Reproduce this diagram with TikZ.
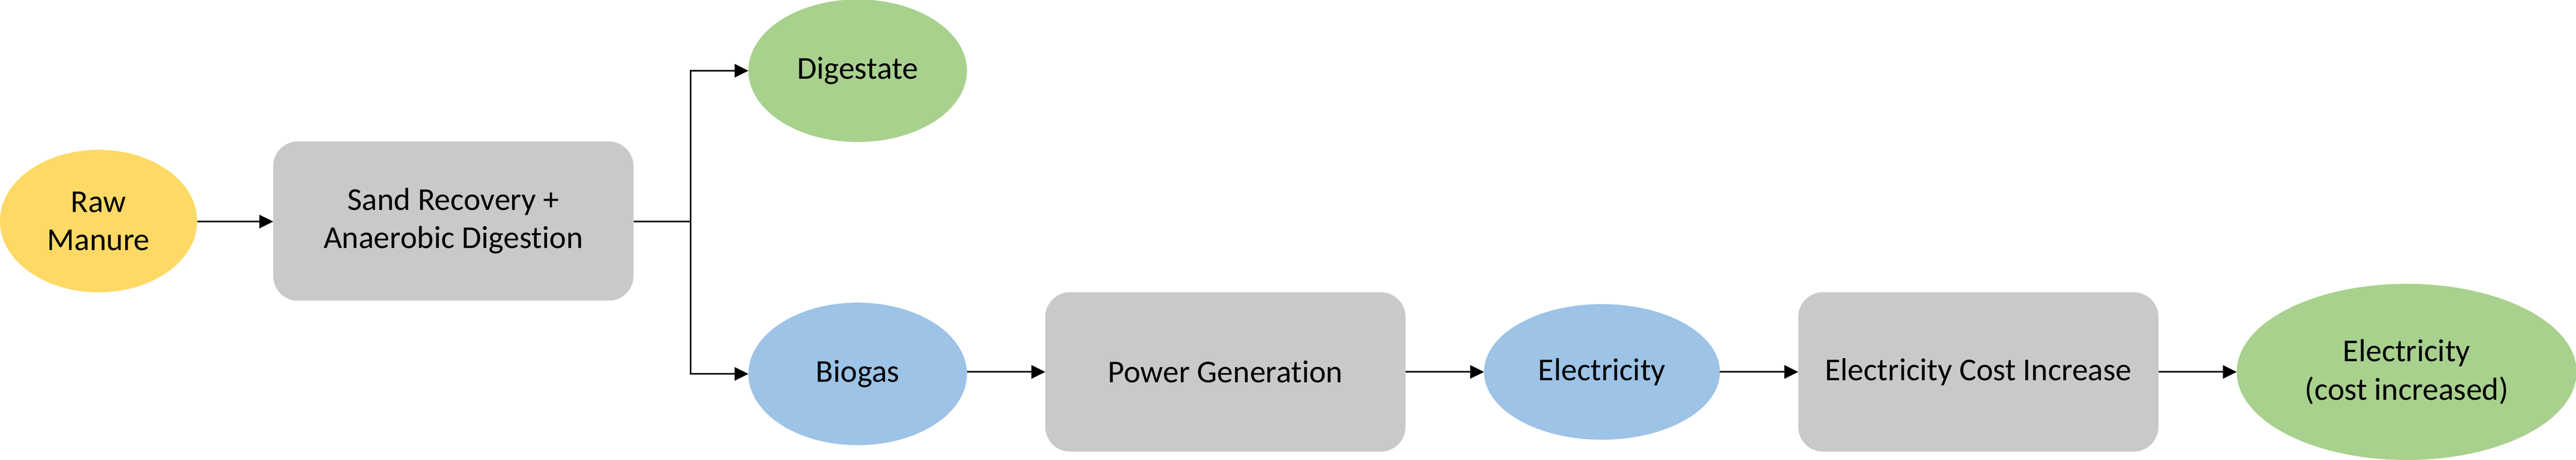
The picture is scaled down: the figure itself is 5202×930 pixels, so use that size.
\documentclass[tikz,border=0pt]{standalone}
\usepackage{fontspec}
\setmainfont{Carlito}[Ligatures=NoCommon]
\usetikzlibrary{arrows.meta,shapes.geometric}
\definecolor{cyellow}{HTML}{FFD966}
\definecolor{cgreen}{HTML}{A9D18E}
\definecolor{cblue}{HTML}{9DC3E6}
\definecolor{cgray}{HTML}{C9C9C9}
\begin{document}
\begin{tikzpicture}[x=0.01cm,y=-0.01cm,
  every node/.style={font=\fontsize{18.3pt}{21.9pt}\selectfont, align=center, inner sep=0pt, outer sep=0pt},
  oval/.style={ellipse, draw=none},
  procbox/.style={rectangle, rounded corners=0.5cm, fill=cgray, draw=none, minimum width=7.27cm, minimum height=3.22cm},
  flow/.style={line width=0.03cm, -{Triangle[length=0.28cm,width=0.27cm]}}
]
\useasboundingbox (0,0) rectangle (5202,930);
\node[oval, fill=cyellow, minimum width=3.98cm, minimum height=2.88cm] (raw) at (199,447) {Raw\\Manure};
\node[procbox] (sand) at (915.5,447) {Sand Recovery +\\Anaerobic Digestion};
\node[oval, fill=cgreen, minimum width=4.41cm, minimum height=2.88cm] (dig) at (1732,143) {Digestate};
\node[oval, fill=cblue, minimum width=4.41cm, minimum height=2.88cm] (bio) at (1732,756) {Biogas};
\node[procbox] (pow) at (2474.5,752) {Power Generation};
\node[oval, fill=cblue, minimum width=4.76cm, minimum height=2.74cm] (ele) at (3235,752) {Electricity};
\node[procbox] (cost) at (3995,752) {Electricity Cost Increase};
\node[oval, fill=cgreen, minimum width=6.86cm, minimum height=3.56cm] (fin) at (4860,752) {Electricity\\(cost increased)};
\coordinate (br) at (1395,448);
\draw[flow] (raw.east |- 0,448) -- (sand.west |- 0,448);
\draw[line width=0.03cm] (sand.east |- br) -- (br);
\draw[flow] (br) |- (dig.west);
\draw[flow] (br) |- (bio.west);
\draw[flow] (bio.east |- 0,752) -- (pow.west);
\draw[flow] (pow) -- (ele);
\draw[flow] (ele) -- (cost);
\draw[flow] (cost) -- (fin);
\end{tikzpicture}
\end{document}
